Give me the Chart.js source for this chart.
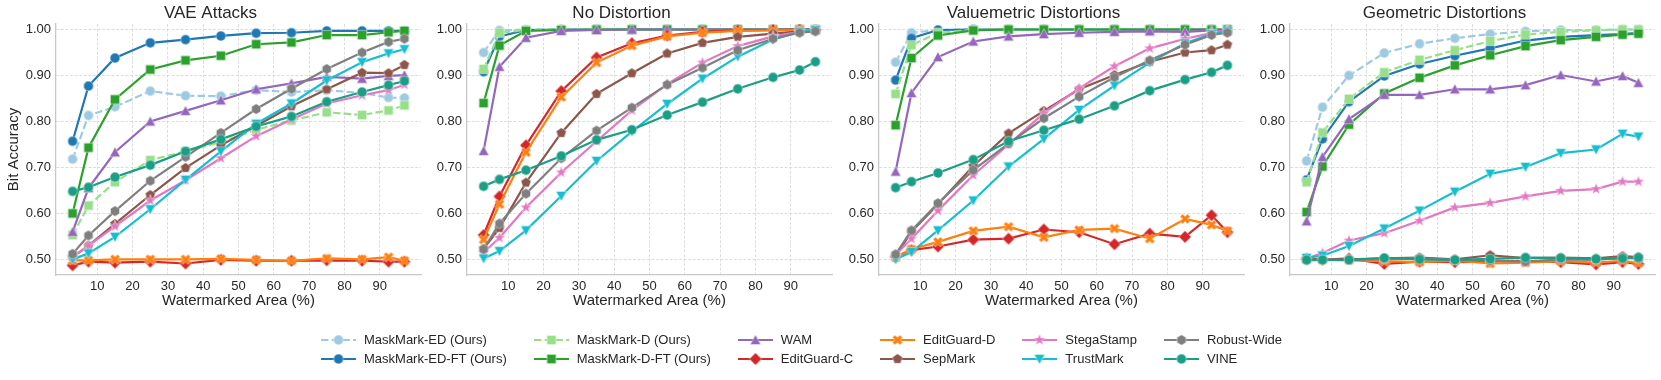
<!DOCTYPE html>
<html><head><meta charset="utf-8">
<script src="https://cdn.jsdelivr.net/npm/chart.js@4.4.1/dist/chart.umd.min.js"></script>
<style>
html,body{margin:0;padding:0;background:#fff;}
body{width:1661px;height:380px;position:relative;overflow:hidden;font-family:"Liberation Sans",Arial,sans-serif;color:#262626;}
canvas.panel{position:absolute;top:0;}
#legend{position:absolute;top:330px;left:321px;display:flex;gap:27px;font-size:13px;}
.col{display:flex;flex-direction:column;}
.item{display:flex;align-items:center;height:19px;white-space:nowrap;}
.item canvas{margin-right:8px;}
</style></head><body>
<div id="legend"></div>
<script>
// ---------- data ----------
const areas = [3, 7.5, 15, 25, 35, 45, 55, 65, 75, 85, 92.5, 97];
const xTicks = [10, 20, 30, 40, 50, 60, 70, 80, 90];
const yTicks = [0.5, 0.6, 0.7, 0.8, 0.9, 1.0];
const panelTitles = ['VAE Attacks', 'No Distortion', 'Valuemetric Distortions', 'Geometric Distortions'];
const methods = ['MaskMark-ED (Ours)', 'MaskMark-ED-FT (Ours)', 'MaskMark-D (Ours)', 'MaskMark-D-FT (Ours)',
  'WAM', 'EditGuard-C', 'EditGuard-D', 'SepMark', 'StegaStamp', 'TrustMark', 'Robust-Wide', 'VINE'];

// rows follow the order of `methods`
const vaeAttacks = [
  [0.718, 0.813, 0.832, 0.866, 0.856, 0.855, 0.868, 0.864, 0.868, 0.862, 0.852, 0.851],
  [0.757, 0.877, 0.938, 0.971, 0.978, 0.986, 0.992, 0.993, 0.997, 0.997, 0.997, 0.997],
  [0.553, 0.617, 0.668, 0.716, 0.735, 0.755, 0.782, 0.802, 0.820, 0.814, 0.824, 0.835],
  [0.600, 0.743, 0.848, 0.913, 0.933, 0.943, 0.968, 0.972, 0.988, 0.988, 0.994, 0.997],
  [0.560, 0.655, 0.733, 0.800, 0.823, 0.846, 0.870, 0.883, 0.897, 0.893, 0.899, 0.901],
  [0.487, 0.495, 0.493, 0.495, 0.491, 0.499, 0.497, 0.497, 0.498, 0.497, 0.495, 0.495],
  [0.498, 0.498, 0.500, 0.500, 0.500, 0.501, 0.499, 0.497, 0.502, 0.500, 0.505, 0.497],
  [0.505, 0.530, 0.577, 0.640, 0.699, 0.748, 0.790, 0.833, 0.870, 0.906, 0.905, 0.923],
  [0.505, 0.530, 0.572, 0.628, 0.672, 0.720, 0.768, 0.804, 0.839, 0.857, 0.868, 0.880],
  [0.500, 0.513, 0.549, 0.609, 0.673, 0.735, 0.795, 0.839, 0.889, 0.929, 0.948, 0.957],
  [0.512, 0.552, 0.605, 0.671, 0.723, 0.775, 0.827, 0.871, 0.914, 0.950, 0.973, 0.980],
  [0.648, 0.657, 0.679, 0.705, 0.735, 0.761, 0.789, 0.811, 0.843, 0.864, 0.879, 0.888]
];
const noDistortion = [
  [0.950, 0.998, 1.000, 1.000, 1.000, 1.000, 1.000, 1.000, 1.000, 1.000, 1.000, 1.000],
  [0.908, 0.985, 0.999, 1.000, 1.000, 1.000, 1.000, 1.000, 1.000, 1.000, 1.000, 1.000],
  [0.914, 0.993, 0.999, 1.000, 1.000, 1.000, 1.000, 1.000, 1.000, 1.000, 1.000, 1.000],
  [0.840, 0.965, 0.997, 0.999, 1.000, 1.000, 1.000, 1.000, 1.000, 1.000, 1.000, 1.000],
  [0.736, 0.919, 0.982, 0.997, 0.999, 1.000, 1.000, 1.000, 1.000, 1.000, 1.000, 1.000],
  [0.553, 0.637, 0.748, 0.866, 0.939, 0.970, 0.987, 0.995, 0.998, 0.999, 1.000, 0.999],
  [0.543, 0.620, 0.733, 0.853, 0.928, 0.965, 0.985, 0.993, 0.997, 0.998, 0.999, 0.999],
  [0.523, 0.568, 0.667, 0.775, 0.860, 0.905, 0.948, 0.971, 0.984, 0.991, 0.996, 0.997],
  [0.515, 0.547, 0.613, 0.689, 0.757, 0.824, 0.881, 0.928, 0.964, 0.985, 0.995, 0.999],
  [0.502, 0.518, 0.563, 0.638, 0.714, 0.778, 0.838, 0.893, 0.941, 0.978, 0.995, 0.999],
  [0.522, 0.578, 0.643, 0.720, 0.780, 0.830, 0.880, 0.917, 0.955, 0.980, 0.993, 0.996],
  [0.659, 0.674, 0.694, 0.725, 0.760, 0.782, 0.814, 0.842, 0.871, 0.896, 0.912, 0.930]
];
const valuemetric = [
  [0.929, 0.993, 0.999, 1.000, 1.000, 1.000, 1.000, 1.000, 1.000, 1.000, 1.000, 1.000],
  [0.890, 0.981, 0.999, 1.000, 1.000, 1.000, 1.000, 1.000, 1.000, 1.000, 1.000, 1.000],
  [0.860, 0.966, 0.993, 0.999, 1.000, 1.000, 1.000, 1.000, 1.000, 1.000, 1.000, 1.000],
  [0.792, 0.938, 0.987, 0.998, 1.000, 1.000, 1.000, 1.000, 1.000, 1.000, 1.000, 1.000],
  [0.691, 0.862, 0.940, 0.974, 0.985, 0.990, 0.993, 0.995, 0.996, 0.995, 0.998, 0.999],
  [0.506, 0.520, 0.528, 0.543, 0.545, 0.565, 0.559, 0.533, 0.556, 0.549, 0.596, 0.559],
  [0.504, 0.522, 0.538, 0.562, 0.571, 0.548, 0.564, 0.567, 0.545, 0.588, 0.575, 0.562],
  [0.508, 0.560, 0.620, 0.703, 0.774, 0.823, 0.870, 0.901, 0.930, 0.950, 0.955, 0.967],
  [0.510, 0.545, 0.606, 0.683, 0.750, 0.818, 0.872, 0.920, 0.959, 0.980, 0.992, 0.999],
  [0.500, 0.516, 0.563, 0.628, 0.702, 0.762, 0.825, 0.878, 0.928, 0.970, 0.990, 0.996],
  [0.511, 0.563, 0.622, 0.694, 0.752, 0.807, 0.854, 0.896, 0.933, 0.967, 0.988, 0.993],
  [0.656, 0.669, 0.688, 0.717, 0.757, 0.781, 0.805, 0.834, 0.867, 0.891, 0.907, 0.922]
];
const geometric = [
  [0.714, 0.831, 0.900, 0.949, 0.969, 0.981, 0.990, 0.996, 0.999, 0.999, 1.000, 1.000],
  [0.673, 0.762, 0.843, 0.899, 0.925, 0.943, 0.959, 0.976, 0.984, 0.988, 0.990, 0.993],
  [0.668, 0.776, 0.849, 0.907, 0.934, 0.955, 0.975, 0.989, 0.995, 0.998, 1.000, 1.000],
  [0.603, 0.702, 0.793, 0.861, 0.895, 0.922, 0.944, 0.964, 0.977, 0.984, 0.989, 0.991],
  [0.583, 0.723, 0.805, 0.858, 0.858, 0.870, 0.870, 0.879, 0.901, 0.887, 0.899, 0.884],
  [0.502, 0.499, 0.502, 0.490, 0.495, 0.494, 0.495, 0.497, 0.494, 0.489, 0.494, 0.490],
  [0.500, 0.499, 0.498, 0.496, 0.494, 0.497, 0.491, 0.493, 0.496, 0.493, 0.497, 0.492],
  [0.499, 0.499, 0.500, 0.502, 0.504, 0.500, 0.509, 0.503, 0.504, 0.502, 0.507, 0.505],
  [0.502, 0.514, 0.541, 0.557, 0.584, 0.613, 0.623, 0.637, 0.649, 0.653, 0.669, 0.669],
  [0.503, 0.508, 0.529, 0.567, 0.606, 0.647, 0.686, 0.701, 0.731, 0.739, 0.773, 0.767],
  [0.498, 0.499, 0.499, 0.501, 0.502, 0.499, 0.497, 0.495, 0.500, 0.499, 0.504, 0.502],
  [0.499, 0.499, 0.499, 0.503, 0.500, 0.499, 0.501, 0.504, 0.503, 0.501, 0.502, 0.504]
];
const panelData = [vaeAttacks, noDistortion, valuemetric, geometric];

// ---------- styles ----------
const FONT = '"Liberation Sans", Arial, sans-serif';
const TEXT = '#262626';
const colors = ['#9ecae1', '#1f77b4', '#98df8a', '#2ca02c', '#9467bd', '#d62728', '#ff7f0e',
  '#8c564b', '#e377c2', '#17becf', '#7f7f7f', '#1a9e85'];
const shapes = ['circle', 'circle', 'square', 'square', 'triUp', 'diamond', 'xFilled',
  'pentagon', 'star', 'triDown', 'hexagon', 'circle'];
const dashedSeries = [true, false, true, false, false, false, false, false, false, false, false, false];

function markerCanvas(shape, color) {
  const S = 18, c = document.createElement('canvas');
  c.width = S; c.height = S;
  const g = c.getContext('2d');
  g.translate(S / 2, S / 2);
  g.beginPath();
  const poly = pts => { g.moveTo(pts[0][0], pts[0][1]); for (let i = 1; i < pts.length; i++) g.lineTo(pts[i][0], pts[i][1]); g.closePath(); };
  const regular = (n, r) => { const p = []; for (let k = 0; k < n; k++) { const a = -Math.PI / 2 + k * 2 * Math.PI / n; p.push([r * Math.cos(a), r * Math.sin(a)]); } poly(p); };
  switch (shape) {
    case 'circle': g.arc(0, 0, 4.9, 0, 2 * Math.PI); break;
    case 'square': g.rect(-4.6, -4.6, 9.2, 9.2); break;
    case 'triUp': poly([[0, -5.3], [5.3, 4.6], [-5.3, 4.6]]); break;
    case 'triDown': poly([[0, 5.3], [5.3, -4.6], [-5.3, -4.6]]); break;
    case 'diamond': poly([[0, -6.2], [6.2, 0], [0, 6.2], [-6.2, 0]]); break;
    case 'pentagon': regular(5, 5.3); break;
    case 'hexagon': regular(6, 5.2); break;
    case 'star': {
      const p = []; for (let k = 0; k < 10; k++) { const a = -Math.PI / 2 + k * Math.PI / 5; const r = k % 2 ? 2.5 : 6.2; p.push([r * Math.cos(a), r * Math.sin(a)]); } poly(p); break;
    }
    case 'xFilled': {
      const s = 2.5;
      poly([[-1, -2], [0, -1], [1, -2], [2, -1], [1, 0], [2, 1], [1, 2], [0, 1], [-1, 2], [-2, 1], [-1, 0], [-2, -1]].map(q => [q[0] * s, q[1] * s]));
      break;
    }
  }
  g.fillStyle = color; g.fill();
  g.lineWidth = 0.8; g.strokeStyle = 'rgba(255,255,255,0.55)'; g.stroke();
  return c;
}
const markerImgs = shapes.map((s, i) => markerCanvas(s, colors[i]));

// ---------- panels ----------
const PLOT_LEFT0 = 56, PLOT_STEP = 411.33, PLOT_W = 365, AXW = 56;
panelData.forEach((rows, p) => {
  const cv = document.createElement('canvas');
  cv.className = 'panel';
  const W = AXW + PLOT_W + AXW, H = 311;
  cv.width = W; cv.height = H;
  cv.style.left = (PLOT_LEFT0 + p * PLOT_STEP - AXW) + 'px';
  cv.style.width = W + 'px'; cv.style.height = H + 'px';
  document.body.appendChild(cv);
  new Chart(cv.getContext('2d'), {
    type: 'line',
    data: {
      datasets: methods.map((m, k) => ({
        label: m,
        data: areas.map((x, j) => ({ x: x, y: rows[k][j] })),
        borderColor: colors[k],
        backgroundColor: colors[k],
        borderWidth: 2.2,
        borderDash: dashedSeries[k] ? [7.5, 3.2] : [],
        pointStyle: markerImgs[k],
        pointRadius: 5,
        tension: 0,
        fill: false,
        order: -k
      }))
    },
    options: {
      animation: false, responsive: false, devicePixelRatio: 1,
      events: [],
      layout: { padding: { left: 0, right: AXW, top: 0, bottom: 0 } },
      plugins: {
        legend: { display: false }, tooltip: { enabled: false },
        title: { display: true, text: panelTitles[p], color: TEXT,
          font: { family: FONT, size: 17, weight: 'normal' }, padding: { top: 3, bottom: 0.6 } }
      },
      scales: {
        x: {
          type: 'linear', min: -1.7, max: 101.7,
          afterBuildTicks: s => { s.ticks = xTicks.map(v => ({ value: v })); },
          afterFit: s => { s.height = 36; },
          ticks: { color: TEXT, font: { family: FONT, size: 13 }, padding: 4, maxRotation: 0,
            callback: v => String(v) },
          grid: { color: '#d4d4d4', lineWidth: 0.8, drawTicks: false },
          border: { display: true, color: '#c8c8c8', width: 1.3, dash: [3, 1.6] },
          title: { display: true, text: 'Watermarked Area (%)', color: TEXT,
            font: { family: FONT, size: 15 }, padding: { top: 0, bottom: 1 } }
        },
        y: {
          type: 'linear', min: 0.466, max: 1.012,
          afterBuildTicks: s => { s.ticks = yTicks.map(v => ({ value: v })); },
          afterFit: s => { s.width = AXW; },
          ticks: { color: TEXT, font: { family: FONT, size: 13 }, padding: 5,
            callback: v => Number(v).toFixed(2) },
          grid: { color: '#d4d4d4', lineWidth: 0.8, drawTicks: false },
          border: { display: true, color: '#c8c8c8', width: 1.3, dash: [3, 1.6] },
          title: { display: p === 0, text: 'Bit Accuracy', color: TEXT,
            font: { family: FONT, size: 15 }, padding: { top: 5, bottom: 0 } }
        }
      }
    }
  });
});

// ---------- legend ----------
function handleCanvas(k) {
  const c = document.createElement('canvas');
  c.width = 35; c.height = 18;
  const g = c.getContext('2d');
  g.strokeStyle = colors[k]; g.lineWidth = 2.2;
  g.setLineDash(dashedSeries[k] ? [7.5, 3.2] : []);
  g.beginPath(); g.moveTo(0, 9); g.lineTo(35, 9); g.stroke();
  const m = markerImgs[k];
  g.drawImage(m, 17.5 - m.width / 2, 9 - m.height / 2);
  return c;
}
const legend = document.getElementById('legend');
for (let col = 0; col < 6; col++) {
  const cdiv = document.createElement('div'); cdiv.className = 'col';
  for (let row = 0; row < 2; row++) {
    const k = col * 2 + row;
    const it = document.createElement('div'); it.className = 'item';
    it.appendChild(handleCanvas(k));
    const sp = document.createElement('span'); sp.textContent = methods[k];
    it.appendChild(sp);
    cdiv.appendChild(it);
  }
  legend.appendChild(cdiv);
}
</script>
</body></html>
